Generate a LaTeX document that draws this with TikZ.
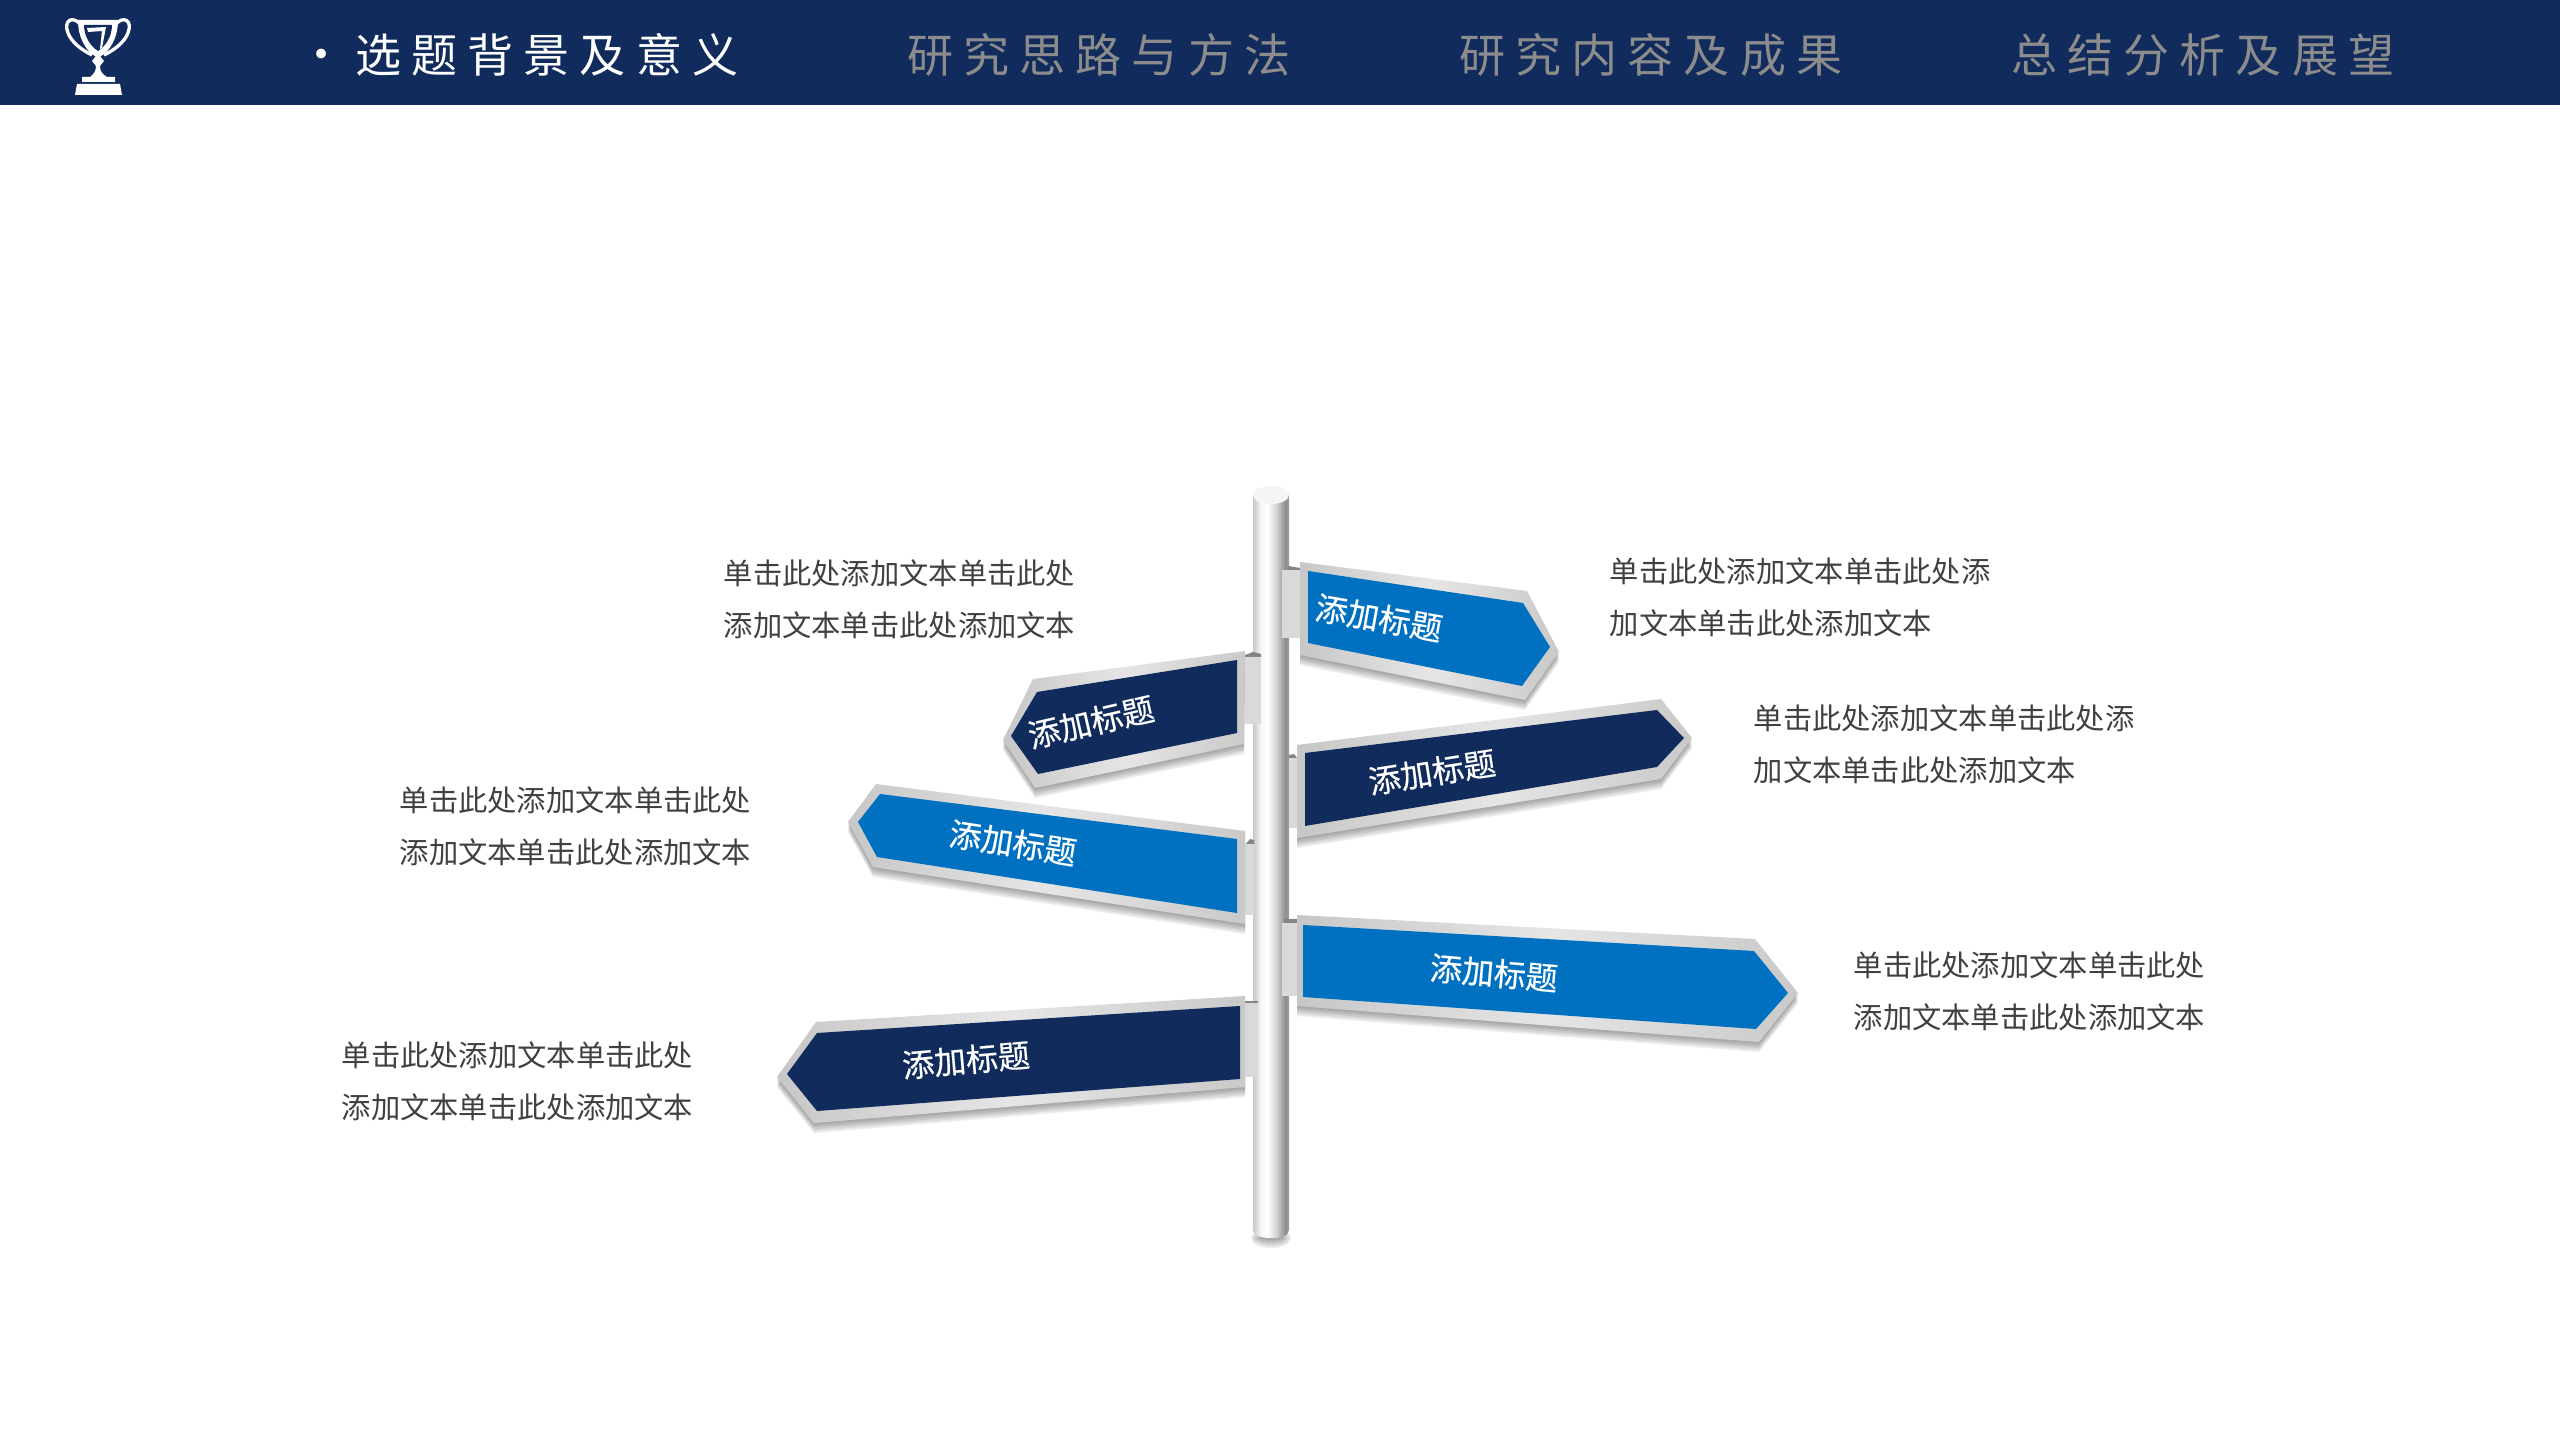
\documentclass[tikz,border=0pt]{standalone}
\usepackage{fontspec}
\newfontfamily\cjk{Noto Sans CJK SC}
\newfontfamily\cjkmenu[LetterSpace=21.7]{Noto Sans CJK SC}
\newfontfamily\cjksign[FakeBold=0.4]{Noto Sans CJK SC}
\usetikzlibrary{positioning}
\definecolor{navy}{HTML}{102B5C}
\definecolor{signblue}{HTML}{0070C0}
\definecolor{menugrey}{HTML}{8C8C8C}
\definecolor{bodygrey}{HTML}{404040}
\pgfdeclarehorizontalshading{polesteel}{100bp}{color(0bp)=(black!20); color(25bp)=(black!22); color(36bp)=(black!3); color(45bp)=(white); color(58bp)=(black!18); color(70bp)=(black!45); color(75bp)=(black!38); color(100bp)=(black!38)}
\pgfdeclarehorizontalshading{silverplate}{100bp}{color(0bp)=(black!22); color(25bp)=(black!22); color(50bp)=(black!10); color(75bp)=(black!21); color(100bp)=(black!21)}
\tikzset{>=stealth,
  menu/.style={anchor=base west, inner sep=0pt, font=\cjkmenu\fontsize{13.1}{16}\selectfont},
  body/.style={anchor=west, inner sep=0pt, align=left, text=bodygrey, font=\cjk\fontsize{8.33}{14.8}\selectfont},
  signtext/.style={inner sep=0pt, text=white, font=\cjksign\fontsize{9.1}{11}\selectfont},
  plate/.style={shading=silverplate},
  bracket/.style={fill=black!15},
  bracketcap/.style={fill=black!48},
  shadowtint/.style={fill=black, opacity=.08},
}
\begin{document}
\begin{tikzpicture}[x=.01cm, y=-.01cm]
  \useasboundingbox (0,0) rectangle (2560,1440);
  % header band
  \fill[navy] (0,0) rectangle (2560,105);
  \node[menu, text=white, anchor=base] (dot) at (322,72) {·};
  \node[menu, text=white] (m1) at (355,72.5) {选题背景及意义};
  \node[menu, text=menugrey] (m2) at (907,72.5) {研究思路与方法};
  \node[menu, text=menugrey] (m3) at (1459,72.5) {研究内容及成果};
  \node[menu, text=menugrey] (m4) at (2011,72.5) {总结分析及展望};
  % trophy
  \draw[white, line width=.95pt] (81,25) .. controls (73,15) and (63,20) .. (68,33) .. controls (72,43) and (82,50) .. (92,55);
  \draw[white, line width=.95pt] (115,25) .. controls (123,15) and (133,20) .. (128,33) .. controls (124,43) and (114,50) .. (104,55);
  \fill[white] (78,20) -- (118,20) .. controls (118,38) and (110,52) .. (98,58) .. controls (86,52) and (78,38) .. (78,20) -- cycle;
  \fill[navy] (84,25) -- (112,25) .. controls (112,36) and (106,46) .. (98,51) .. controls (90,46) and (84,36) .. (84,25) -- cycle;
  \fill[white] (87,28) -- (106,27) -- (102,48) -- (100,49) -- (102,31) -- (88,32) -- cycle;
  \fill[white] (96,56) -- (100,56) -- (104,61) -- (100,66) .. controls (100,71) and (102,74) .. (107,77) -- (115,77) -- (115,82) -- (82,82) -- (82,77) -- (90,77) .. controls (94,74) and (96,71) .. (96,66) -- (92,61) -- cycle;
  \fill[white] (77,84) -- (120,84) -- (122,95) -- (75,95) -- cycle;
  % pole
  \foreach \s in {2,4,6,8,10}
    \fill[shadowtint] (1271,1238) ellipse ({10+\s} and {\s});
  \path[shading=polesteel] (1253,495) -- (1289,495) -- (1289,1230) .. controls (1289,1236) and (1280,1238) .. (1271,1238) .. controls (1262,1238) and (1253,1236) .. (1253,1230) -- cycle;
  \fill[black!4] (1271,495) ellipse (18 and 9);
  % sign 1
  \foreach \s in {2,4,6,8,10}
    \fill[shadowtint] (1300,562+\s) -- (1527,591+\s) -- (1559,652+\s) -- (1525,700+\s) -- (1300,655+\s) -- cycle;
  \fill[bracketcap] (1288,572) -- (1288,566) -- (1300,568) -- (1300,572) -- cycle;
  \fill[bracket] (1282,570) rectangle (1300,638);
  \path[plate] (1300,562) -- (1527,591) -- (1559,652) -- (1525,700) -- (1300,655) -- cycle;
  \fill[signblue] (1308,571) -- (1523,603) -- (1550,647) -- (1522,686) -- (1308,643) -- cycle;
  \node[signtext, rotate=-10] (t1) at (1379,618) {添加标题};
  % sign 2
  \foreach \s in {2,4,6,8,10}
    \fill[shadowtint] (1245,651+\s) -- (1033,679+\s) -- (1003,740+\s) -- (1035,788+\s) -- (1244,744+\s) -- cycle;
  \fill[bracketcap] (1245,657) -- (1245,655) -- (1253,652) -- (1261,654) -- (1261,657) -- cycle;
  \fill[bracket] (1245,657) rectangle (1261,724);
  \path[plate] (1245,651) -- (1033,679) -- (1003,740) -- (1035,788) -- (1244,744) -- cycle;
  \fill[navy] (1237,660) -- (1037,692) -- (1011,736) -- (1038,774) -- (1237,733) -- cycle;
  \node[signtext, rotate=13] (t2) at (1091,722) {添加标题};
  % sign 3
  \foreach \s in {2,4,6,8,10}
    \fill[shadowtint] (1297,745+\s) -- (1661,699+\s) -- (1692,738+\s) -- (1661,779+\s) -- (1297,838+\s) -- cycle;
  \fill[bracketcap] (1289,758) -- (1289,755) -- (1294,754) -- (1297,758) -- cycle;
  \fill[bracket] (1289,758) rectangle (1297,828);
  \path[plate] (1297,745) -- (1661,699) -- (1692,738) -- (1661,779) -- (1297,838) -- cycle;
  \fill[navy] (1305,753) -- (1657,710) -- (1684,738) -- (1657,767) -- (1305,826) -- cycle;
  \node[signtext, rotate=9] (t3) at (1432,772) {添加标题};
  % sign 4
  \foreach \s in {2,4,6,8,10}
    \fill[shadowtint] (876,784+\s) -- (1245,831+\s) -- (1245,924+\s) -- (873,867+\s) -- (848,822+\s) -- cycle;
  \fill[bracketcap] (1245,845) -- (1250,839) -- (1254,840) -- (1254,845) -- cycle;
  \fill[bracket] (1245,844) rectangle (1254,915);
  \path[plate] (876,784) -- (1245,831) -- (1245,924) -- (873,867) -- (848,822) -- cycle;
  \fill[signblue] (880,794) -- (1237,839) -- (1237,913) -- (877,857) -- (858,822) -- cycle;
  \node[signtext, rotate=-9] (t4) at (1013,843) {添加标题};
  % sign 5
  \foreach \s in {2,4,6,8,10}
    \fill[shadowtint] (1297,915+\s) -- (1755,939+\s) -- (1798,993+\s) -- (1759,1042+\s) -- (1297,1006+\s) -- cycle;
  \fill[bracketcap] (1284,924) -- (1284,919) -- (1297,919) -- (1297,924) -- cycle;
  \fill[bracket] (1282,923) rectangle (1297,996);
  \path[plate] (1297,915) -- (1755,939) -- (1798,993) -- (1759,1042) -- (1297,1006) -- cycle;
  \fill[signblue] (1303,925) -- (1754,951) -- (1788,993) -- (1756,1029) -- (1303,997) -- cycle;
  \node[signtext, rotate=-5] (t5) at (1494,973) {添加标题};
  % sign 6
  \foreach \s in {2,4,6,8,10}
    \fill[shadowtint] (1245,996+\s) -- (816,1022+\s) -- (777,1077+\s) -- (814,1123+\s) -- (1245,1087+\s) -- cycle;
  \fill[bracketcap] (1245,1004) -- (1245,1001) -- (1258,1001) -- (1258,1004) -- cycle;
  \fill[bracket] (1245,1003) rectangle (1258,1077);
  \path[plate] (1245,996) -- (816,1022) -- (777,1077) -- (814,1123) -- (1245,1087) -- cycle;
  \fill[navy] (1240,1006) -- (817,1033) -- (787,1074) -- (817,1111) -- (1240,1079) -- cycle;
  \node[signtext, rotate=5] (t6) at (966,1060) {添加标题};
  % descriptions
  \node[body] (d1) at (1609,597.5) {单击此处添加文本单击此处添\\加文本单击此处添加文本};
  \node[body] (d2) at (723,599.5) {单击此处添加文本单击此处\\添加文本单击此处添加文本};
  \node[body] (d3) at (1753,744.5) {单击此处添加文本单击此处添\\加文本单击此处添加文本};
  \node[body] (d4) at (399,826.5) {单击此处添加文本单击此处\\添加文本单击此处添加文本};
  \node[body] (d5) at (1853,991.5) {单击此处添加文本单击此处\\添加文本单击此处添加文本};
  \node[body] (d6) at (341,1081.5) {单击此处添加文本单击此处\\添加文本单击此处添加文本};
\end{tikzpicture}
\end{document}
